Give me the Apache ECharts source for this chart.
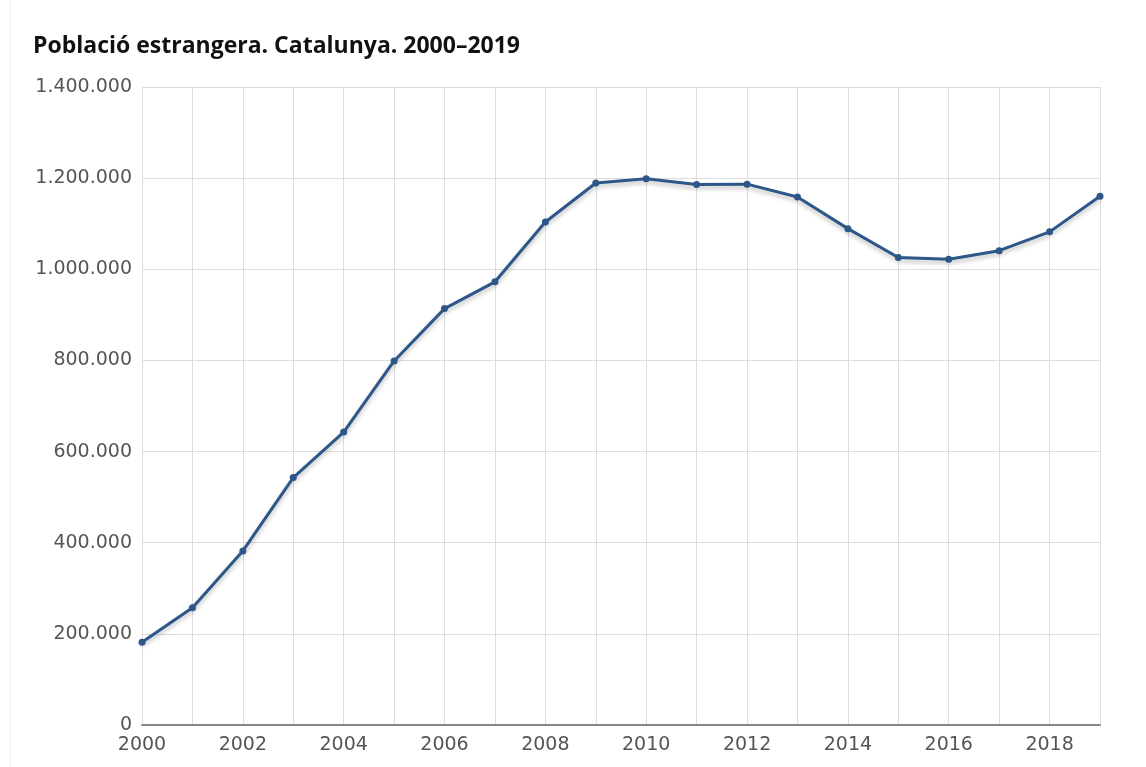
<!DOCTYPE html>
<html><head><meta charset="utf-8">
<script src="https://cdn.jsdelivr.net/npm/echarts@6/dist/echarts.min.js"></script>
<style>html,body{margin:0;padding:0;background:#fff}#c{width:1146px;height:767px}</style>
</head><body><div id="c"></div>
<script>
const titleText = 'Població estrangera. Catalunya. 2000–2019';
const years = ['2000','2001','2002','2003','2004','2005','2006','2007','2008','2009','2010','2011','2012','2013','2014','2015','2016','2017','2018','2019'];
const population = [181590,257320,382020,543008,642846,798904,913757,972507,1103790,1189279,1198538,1185852,1186779,1158472,1089214,1025942,1021888,1040836,1082099,1160067];

const fmt = v => String(v).replace(/\B(?=(\d{3})+(?!\d))/g, '.');
const chart = echarts.init(document.getElementById('c'));
chart.setOption({
  animation: false,
  title: {text: titleText, left: 28, top: 30, textStyle: {fontFamily: 'Open Sans', fontWeight: 'bold', fontSize: 23, color: '#111'}},
  graphic: [{type: 'line', shape: {x1: 10.5, y1: 0, x2: 10.5, y2: 767}, style: {stroke: '#eeeeee', lineWidth: 1}}],
  grid: {left: 142, right: 46, top: 87, bottom: 42, containLabel: false},
  xAxis: {
    type: 'category', data: years, boundaryGap: false,
    axisLine: {lineStyle: {color: '#888', width: 2}},
    axisTick: {show: false},
    axisLabel: {interval: 1, color: '#555', fontFamily: 'DejaVu Sans', fontSize: 19, margin: 11},
    splitLine: {show: true, interval: 0, lineStyle: {color: '#dddddd', width: 1}}
  },
  yAxis: {
    type: 'value', min: 0, max: 1400000, interval: 200000,
    axisLine: {show: false}, axisTick: {show: false},
    axisLabel: {color: '#555', fontFamily: 'DejaVu Sans', fontSize: 19, margin: 10, formatter: fmt},
    splitLine: {lineStyle: {color: '#dddddd', width: 1}}
  },
  series: [{
    type: 'line', data: population, symbol: 'circle', symbolSize: 7,
    lineStyle: {color: '#2d5788', width: 3, shadowColor: 'rgba(0,0,0,0.25)', shadowBlur: 4, shadowOffsetY: 3},
    itemStyle: {color: '#2d5788'}
  }]
});
</script></body></html>
